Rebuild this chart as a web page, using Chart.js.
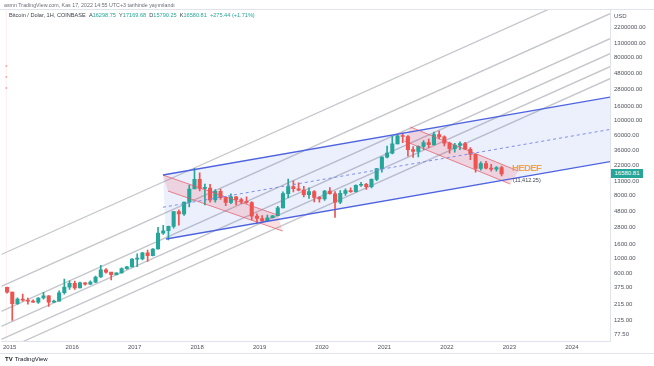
<!DOCTYPE html>
<html lang="tr">
<head>
<meta charset="UTF-8">
<title>Bitcoin / Dolar</title>
<script src="https://cdn.jsdelivr.net/npm/chart.js"></script>
<style>
  body { margin: 0; background: #fff; font-family: "Liberation Sans", Arial, sans-serif; }
  .wrap { position: relative; width: 654px; height: 366px; overflow: hidden; }
  #btc { position: absolute; left: 0; top: 0; }
  .txt { position: absolute; white-space: nowrap; line-height: 1; }
  .pub { left: 4px; top: 3px; font-size: 5.3px; color: #6a6d78; }
  .legend { left: 9px; top: 13px; font-size: 5.6px; color: #3c3f4a; }
  .legend b { font-weight: normal; color: #26a69a; }
  .usd { left: 614px; top: 13px; font-size: 6px; color: #50535e; }
  .badge { left: 611px; top: 169px; width: 32px; height: 9px; background: #26a69a; color: #fff;
           font-size: 6px; line-height: 9px; text-align: center; }
  .target { left: 512px; top: 163px; font-size: 9.5px; font-weight: bold; color: rgba(242,150,40,0.85);
            letter-spacing: -0.6px; }
  .note { left: 513px; top: 178px; font-size: 5.5px; color: #3c3f4a; }
  .logo { left: 5px; top: 356px; font-size: 6px; color: #131722; }
  .logo strong { font-weight: bold; margin-right: 2px; }
  .hl { position: absolute; height: 1px; background: #e0e3eb; }
</style>
</head>
<body>
<div class="wrap">
  <canvas id="btc" width="654" height="366"></canvas>
  <div class="hl" style="left:0;top:9px;width:654px"></div>
  <div class="hl" style="left:0;top:353px;width:654px"></div>
  <div class="txt pub">asmn TradingView.com, Kas 17, 2022 14:55 UTC+3 tarihinde yayımlandı</div>
  <div class="txt legend">Bitcoin / Dolar, 1H, COINBASE &nbsp;A<b>16298.75</b> &nbsp;Y<b>17169.68</b> &nbsp;D<b>15790.25</b> &nbsp;K<b>16580.81</b> &nbsp;<b>+275.44 (+1.71%)</b></div>
  <div class="txt usd">USD</div>
  <div class="txt badge">16580.81</div>
  <div class="txt target">HEDEF</div>
  <div class="txt note">(11,412.25)</div>
  <div class="txt logo"><strong>TV</strong>TradingView</div>
</div>

<script>
// monthly candles, Dec 2014 .. Nov 2022 (COINBASE BTC/USD)
const months = [];
for (let y = 2014; y <= 2022; y++) {
  for (let m = 1; m <= 12; m++) {
    if ((y === 2014 && m < 12) || (y === 2022 && m > 11)) continue;
    months.push(y + '-' + String(m).padStart(2, '0'));
  }
}

const firstOpen = 375;
const closes = [
  320,
  218, 254, 244, 236, 230, 263, 284, 230, 236, 314, 378, 430,
  369, 437, 416, 448, 531, 673, 624, 575, 609, 700, 742, 964,
  968, 1190, 1080, 1350, 2300, 2480, 2875, 4700, 4340, 6450, 10000, 13860,
  10220, 10330, 6930, 9240, 7490, 6390, 7730, 7030, 6630, 6370, 4040, 3740,
  3450, 3830, 4100, 5330, 8560, 10830, 10090, 9610, 8300, 9160, 7570, 7200,
  9350, 8540, 6420, 8630, 9450, 9140, 11350, 11660, 10790, 13800, 19700, 28990,
  33110, 45160, 58800, 57720, 37300, 35040, 41490, 47130, 43820, 61320, 57000, 46200,
  38480, 43190, 45540, 37650, 31800, 19940, 23300, 20050, 19430, 20490, 16580
];
const highs = [
  380,
  320, 265, 300, 262, 247, 268, 317, 285, 245, 334, 495, 465,
  462, 446, 440, 467, 545, 780, 705, 622, 611, 720, 755, 980,
  1150, 1210, 1300, 1370, 2780, 2980, 2900, 4760, 4980, 6470, 11400, 19900,
  17200, 11800, 11700, 9770, 9990, 7760, 8480, 7760, 7410, 7680, 6550, 4370,
  4110, 4200, 4150, 5620, 9080, 13880, 13140, 12330, 10950, 10370, 9510, 7750,
  9580, 10520, 9190, 9470, 10080, 10390, 11450, 12480, 12100, 14100, 19860, 29300,
  41950, 58350, 61790, 64900, 59600, 41300, 42400, 50500, 52920, 67000, 69000, 59100,
  47990, 45800, 48200, 47450, 39800, 31980, 24670, 25200, 22800, 21090, 21470
];
const lows = [
  310,
  125, 212, 236, 215, 228, 220, 253, 198, 226, 236, 300, 350,
  352, 368, 405, 412, 440, 522, 605, 480, 568, 602, 690, 740,
  750, 935, 890, 1070, 1340, 2200, 1830, 2700, 2980, 4150, 5500, 10900,
  9400, 5900, 6430, 6440, 7040, 5750, 6110, 5880, 6150, 6200, 3560, 3200,
  3350, 3380, 3800, 4070, 5330, 7500, 9060, 9350, 7710, 7300, 6520, 6430,
  6860, 8450, 3860, 6150, 8100, 8920, 8990, 10930, 9880, 10370, 13200, 17600,
  28130, 32300, 45000, 47000, 30000, 28800, 29280, 37330, 39600, 43300, 53250, 42000,
  32950, 34300, 37160, 37700, 26700, 17600, 18780, 19600, 18150, 18200, 15480
];

// axis
const yearTicks = [2015, 2016, 2017, 2018, 2019, 2020, 2021, 2022, 2023, 2024];
const priceTicks = [77.5, 125, 215, 375, 600, 1000, 1600, 2800, 4800, 8000, 13000, 22000,
  36000, 60000, 100000, 160000, 280000, 480000, 800000, 1300000, 2200000];

// drawings: [year, price] pairs
const channelUpper = [[2017.454, 15955], [2024.70, 221300]];
const channelLower = [[2017.502, 1886], [2024.70, 25690]];
const channelMid = [[2017.454, 5438], [2024.70, 75420]];
const bear2018Upper = [[2017.454, 15955], [2019.290, 4200]];
const bear2018Lower = [[2017.534, 9355], [2019.370, 2460]];
const bear2022Upper = [[2021.415, 79170], [2023.141, 18240]];
const bear2022Lower = [[2021.319, 49620], [2023.013, 11815]];
const grayLines = [
  [[2014.866, 1124], [2024.61, 10067000]],
  [[2014.866, 388.9], [2024.61, 3472000]],
  [[2014.866, 168.8], [2024.61, 1508000]],
  [[2014.866, 102.3], [2024.61, 913900]],
  [[2014.866, 66.33], [2024.61, 592300]],
  [[2014.866, 44.45], [2024.61, 396800]]
];
// faint vertical marker at the left edge with three small dots
const leftMarker = [[2014.946, 63], [2014.946, 3900000]];
const leftDots = [[2014.946, 606000], [2014.946, 419700], [2014.946, 290900]];

const UP = '#26a69a', DOWN = '#ef5350';

const xs = months.map(s => {
  const [y, m] = s.split('-').map(Number);
  return y + (m - 0.5) / 12;
});
const opens = closes.map((c, i) => i === 0 ? firstOpen : closes[i - 1]);
const candleColors = closes.map((c, i) => c >= opens[i] ? UP : DOWN);

const pts = arr => arr.map(p => ({ x: p[0], y: p[1] }));

function line(points, color, width, dash, order) {
  return {
    type: 'line', data: pts(points), borderColor: color, borderWidth: width,
    borderDash: dash || [], pointRadius: 0, pointHoverRadius: 0, fill: false, clip: 0, order: order, tension: 0
  };
}
function shape(points, color, order) {
  return {
    type: 'line', data: pts(points), borderWidth: 0, borderColor: 'rgba(0,0,0,0)',
    backgroundColor: color, pointRadius: 0, pointHoverRadius: 0, fill: 'shape', clip: 0, order: order, tension: 0
  };
}

const datasets = [];
grayLines.forEach(l => datasets.push(line(l, '#c4c6cc', 1.3, null, 20)));
datasets.push(line(leftMarker, 'rgba(239,83,80,0.10)', 1, null, 20));
datasets.push({
  type: 'line', data: pts(leftDots), showLine: false, pointRadius: 1, pointHoverRadius: 0, pointBorderWidth: 0,
  pointBackgroundColor: 'rgba(239,83,80,0.45)', clip: 0, order: 19
});
datasets.push(shape([channelUpper[0], channelUpper[1], channelLower[1], channelLower[0]], 'rgba(72,96,230,0.10)', 15));
datasets.push(shape([bear2018Upper[0], bear2018Upper[1], bear2018Lower[1], bear2018Lower[0]], 'rgba(242,54,69,0.16)', 14));
datasets.push(shape([bear2022Upper[0], bear2022Upper[1], bear2022Lower[1], bear2022Lower[0]], 'rgba(242,54,69,0.16)', 14));

datasets.push({
  type: 'bar', data: xs.map((x, i) => ({ x: x, y: [lows[i], highs[i]] })),
  backgroundColor: candleColors, barThickness: 1, grouped: false, order: 6
});
datasets.push({
  type: 'bar', data: xs.map((x, i) => ({ x: x, y: [Math.min(opens[i], closes[i]), Math.max(opens[i], closes[i])] })),
  backgroundColor: candleColors, barThickness: 3.4, minBarLength: 1, grouped: false, order: 5
});

datasets.push(line(bear2018Upper, 'rgba(229,83,96,0.7)', 1, null, 3));
datasets.push(line(bear2018Lower, 'rgba(229,83,96,0.7)', 1, null, 3));
datasets.push(line(bear2022Upper, 'rgba(229,83,96,0.7)', 1, null, 3));
datasets.push(line(bear2022Lower, 'rgba(229,83,96,0.7)', 1, null, 3));
datasets.push(line(channelUpper, '#4d63e0', 1.3, null, 2));
datasets.push(line(channelLower, '#4d63e0', 1.3, null, 2));
datasets.push(line(channelMid, '#7d8fe6', 1, [3, 3], 2));

const axisFont = { family: '"Liberation Sans", Arial, sans-serif', size: 6 };

new Chart(document.getElementById('btc'), {
  type: 'bar',
  data: { datasets: datasets },
  options: {
    responsive: false,
    animation: false,
    layout: { autoPadding: false, padding: { top: 10, bottom: 13, left: 0, right: 0 } },
    plugins: { legend: { display: false }, tooltip: { enabled: false } },
    scales: {
      x: {
        type: 'linear', offset: false, min: 2014.866, max: 2024.61,
        grid: { display: false, drawTicks: false },
        border: { display: true, color: '#e0e3eb' },
        afterBuildTicks: s => { s.ticks = yearTicks.map(v => ({ value: v })); },
        afterFit: s => { s.height = 12; },
        ticks: { autoSkip: false, maxRotation: 0, padding: 3, color: '#50535e', font: axisFont,
                 callback: v => String(v) }
      },
      y: {
        type: 'logarithmic', position: 'right', min: 62.7, max: 3928000,
        grid: { display: false, drawTicks: false },
        border: { display: true, color: '#e0e3eb' },
        afterBuildTicks: s => { s.ticks = priceTicks.map(v => ({ value: v })); },
        afterFit: s => { s.width = 44; },
        ticks: { autoSkip: false, padding: 4, color: '#50535e', font: axisFont,
                 callback: v => Number(v).toFixed(2) }
      }
    }
  }
});
</script>
</body>
</html>
